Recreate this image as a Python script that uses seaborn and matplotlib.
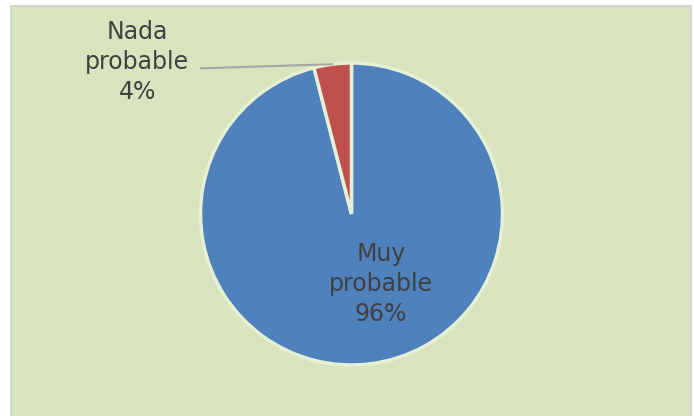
import matplotlib
matplotlib.use("Agg")
import matplotlib.pyplot as plt
import seaborn as sns
import numpy as np
from matplotlib.patches import Rectangle

categories = ["Muy\nprobable", "Nada\nprobable"]
values = [96, 4]
colors = ["#4F81BD", "#C0504D"]

sns.set_style("white")
plt.rcParams['font.family'] = ['DejaVu Sans']

fig = plt.figure(figsize=(6.94, 4.16), dpi=100)
fig.patch.set_facecolor("white")
bg = Rectangle((11/694, -0.05), (691-11)/694, (416-6)/416 + 0.05, transform=fig.transFigure,
               facecolor="#D8E4BE", edgecolor="#D0D0D0", linewidth=1.2, zorder=-10)
fig.patches.append(bg)

cx, cy, r = 351.5, 214, 151
ax = fig.add_axes([(cx - r)/694, (416 - cy - r)/416, 2*r/694, 2*r/416])
ax.set_zorder(5)
ax.set_facecolor("none")
wedges, _ = ax.pie(values, colors=colors, startangle=90, counterclock=False,
                   wedgeprops=dict(edgecolor="#E6F0D4", linewidth=2.5), radius=1)
ax.set_xlim(-1, 1)
ax.set_ylim(-1, 1)
ax.set_aspect("equal")
ax.axis("off")

txtc = "#404040"
fs = 17
ls = 1.33
total = sum(values)
labels = [f"{c}\n{v/total*100:.0f}%" for c, v in zip(categories, values)]
ax.text(0.195, -0.464, labels[0], ha="center", va="center", fontsize=fs,
        color=txtc, linespacing=ls)

w = wedges[1]
mid = np.deg2rad((w.theta1 + w.theta2) / 2)
ax.annotate(labels[1], xy=(np.cos(mid), np.sin(mid)), xytext=(-1.42, 1.007),
            ha="center", va="center", fontsize=fs, color=txtc, linespacing=ls,
            annotation_clip=False,
            arrowprops=dict(arrowstyle="-", color="#A6A6A6", lw=1.5,
                            shrinkA=6, shrinkB=0, relpos=(1.0, 0.42)))

fig.savefig("out.png", dpi=100)
